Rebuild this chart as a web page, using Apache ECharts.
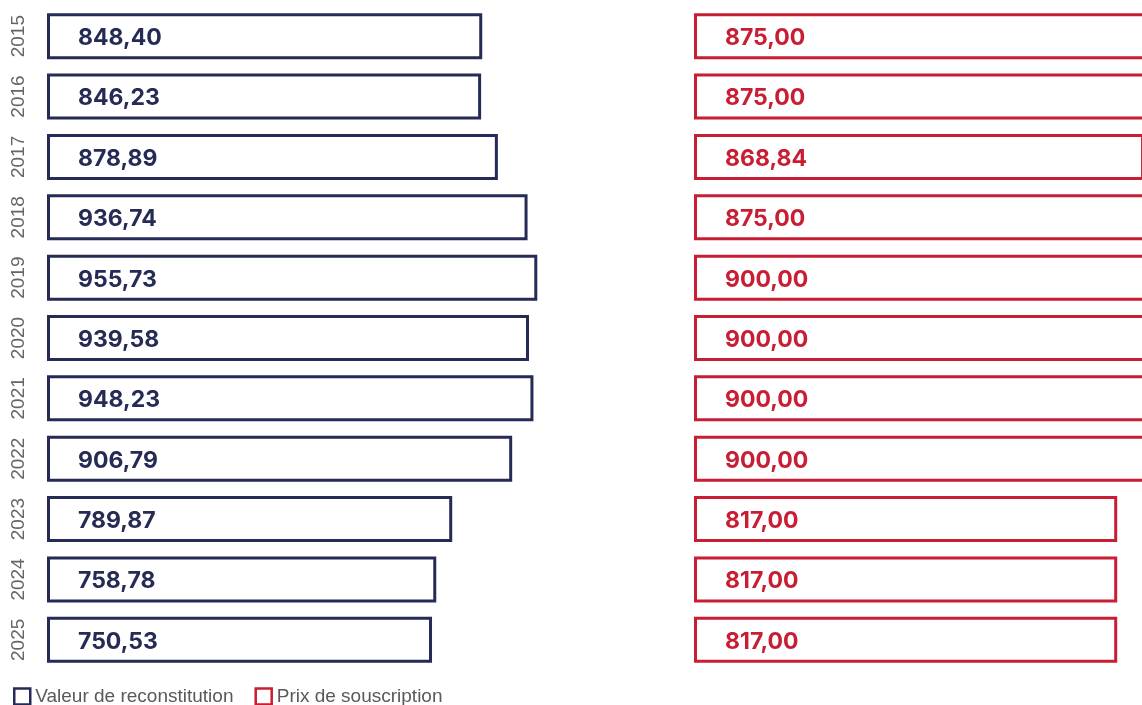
<!DOCTYPE html>
<html>
<head>
<meta charset="utf-8">
<script src="https://cdn.jsdelivr.net/npm/echarts@6/dist/echarts.min.js"></script>
<style>
  html, body { margin: 0; padding: 0; background: #fff; overflow: hidden; }
  /* wider than the window so the right-hand bars run off the edge */
  #chart { width: 1220px; height: 705px; }
</style>
</head>
<body>
<div id="chart"></div>
<script>
const years = ['2015', '2016', '2017', '2018', '2019', '2020', '2021', '2022', '2023', '2024', '2025']
const valeurReconstitution = [848.40, 846.23, 878.89, 936.74, 955.73, 939.58, 948.23, 906.79, 789.87, 758.78, 750.53]
const prixSouscription = [875.00, 875.00, 868.84, 875.00, 900.00, 900.00, 900.00, 900.00, 817.00, 817.00, 817.00]

const NAVY = '#262b55'
const RED = '#c81d33'

const fmt = v => v.toFixed(2).replace('.', ',')

const chart = echarts.init(document.getElementById('chart'))

const labelStyle = (color) => ({
  show: true,
  position: 'insideLeft',
  distance: 31,
  offset: [0, 2],
  color: color,
  fontFamily: 'Inter',
  fontWeight: 700,
  fontSize: 23,
  formatter: (p) => fmt(p.value)
})

const option = {
  animation: false,
  legend: {
    data: ['Valeur de reconstitution', 'Prix de souscription'],
    left: 13,
    top: 687,
    padding: 0,
    icon: 'rect',
    itemWidth: 16,
    itemHeight: 16,
    itemGap: 21,
    itemStyle: { borderWidth: 2.5 },
    textStyle: { color: '#595959', fontSize: 19, fontFamily: 'Liberation Sans', padding: [18, 0, 0, 0] }
  },
  grid: [
    { left: 47, width: 513, top: 6, height: 664 },
    { left: 694, width: 518, top: 6, height: 664 }
  ],
  xAxis: [
    { type: 'value', gridIndex: 0, min: 0, max: 1000, show: false },
    { type: 'value', gridIndex: 1, min: 0, max: 1000, show: false }
  ],
  yAxis: [
    {
      type: 'category',
      gridIndex: 0,
      data: years,
      inverse: true,
      axisLine: { show: false },
      axisTick: { show: false },
      axisLabel: {
        rotate: 90,
        margin: 19,
        color: '#666',
        fontSize: 19,
        fontFamily: 'Liberation Sans'
      }
    },
    {
      type: 'category',
      gridIndex: 1,
      data: years,
      inverse: true,
      show: false
    }
  ],
  series: [
    {
      name: 'Valeur de reconstitution',
      type: 'bar',
      xAxisIndex: 0,
      yAxisIndex: 0,
      data: valeurReconstitution,
      barWidth: 46,
      itemStyle: { color: '#fff', borderColor: NAVY, borderWidth: 3 },
      label: labelStyle(NAVY)
    },
    {
      name: 'Prix de souscription',
      type: 'bar',
      xAxisIndex: 1,
      yAxisIndex: 1,
      data: prixSouscription,
      barWidth: 46,
      itemStyle: { color: '#fff', borderColor: RED, borderWidth: 3 },
      label: labelStyle(RED)
    }
  ]
}

chart.setOption(option)
</script>
</body>
</html>
